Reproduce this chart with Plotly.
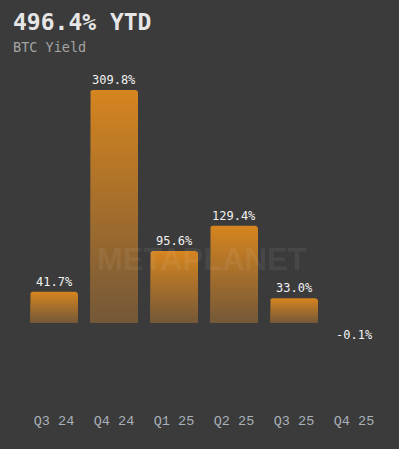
import numpy as np
import plotly.graph_objects as go

categories = ["Q3 24", "Q4 24", "Q1 25", "Q2 25", "Q3 25", "Q4 25"]
yields = [41.7, 309.8, 95.6, 129.4, 33.0, -0.1]
labels = ["41.7%", "309.8%", "95.6%", "129.4%", "33.0%", "-0.1%"]
title_text = "496.4% YTD"
subtitle_text = "BTC Yield"
watermark = "METAPLANET"

BG = "#3b3b3b"
TOP = "#d6851f"
BOTTOM = "#745838"

W, H = 399, 449
ML, MR, MT, MB = 24, 15, 80, 41
pw = W - ML - MR
ph = H - MT - MB
xr = [-0.5, len(categories) - 0.5]
yr = [-113.0, 323.1]
px_x = pw / (xr[1] - xr[0])
px_y = ph / (yr[1] - yr[0])

bar_w = 0.8
rad_px = 3.0

fig = go.Figure()

def bar_shape(i, v):
    x0, x1 = i - bar_w / 2, i + bar_w / 2
    if abs(v) * px_y < 2 * rad_px:
        return [x0, x0, x1, x1, x0], [0, v, v, 0, 0]
    rx = rad_px / px_x
    ry = rad_px / px_y * np.sign(v)
    xs, ys = [x0], [0]
    for a in np.linspace(np.pi, np.pi / 2, 6):
        xs.append(x0 + rx + rx * np.cos(a))
        ys.append(v - ry + ry * np.sin(a))
    for a in np.linspace(np.pi / 2, 0, 6):
        xs.append(x1 - rx + rx * np.cos(a))
        ys.append(v - ry + ry * np.sin(a))
    xs += [x1, x0]
    ys += [0, 0]
    return xs, ys

for i, v in enumerate(yields):
    xs, ys = bar_shape(i, v)
    fig.add_trace(go.Scatter(
        x=xs, y=ys, mode="lines", fill="toself",
        line=dict(width=0, color="rgba(0,0,0,0)"),
        fillgradient=dict(type="vertical",
                          colorscale=[[0, BOTTOM], [1, TOP]]),
        hoverinfo="skip", showlegend=False,
    ))

annotations = [
    dict(text=watermark, xref="paper", yref="paper",
         x=(202 - ML) / pw, y=(MT + ph - 259) / ph,
         xanchor="center", yanchor="middle", showarrow=False,
         font=dict(family="Liberation Sans", size=31, color="rgba(255,255,255,0.07)",
                   weight="bold")),
]
for i, (v, lab) in enumerate(zip(yields, labels)):
    annotations.append(dict(
        text=lab, x=i, y=max(v, 0), xref="x", yref="y",
        xanchor="center", yanchor="bottom" if v >= 0 else "top",
        yshift=1 if v >= 0 else -3, showarrow=False,
        font=dict(family="DejaVu Sans Mono", size=12, color="#f2f2f2"),
    ))
annotations += [
    dict(text="<b>" + title_text + "</b>", xref="paper", yref="paper",
         x=(11 - ML) / pw, y=(MT + ph - 22) / ph,
         xanchor="left", yanchor="middle", showarrow=False,
         font=dict(family="DejaVu Sans Mono", size=23, color="#e6e6e6")),
    dict(text=subtitle_text, xref="paper", yref="paper",
         x=(11 - ML) / pw, y=(MT + ph - 47) / ph,
         xanchor="left", yanchor="middle", showarrow=False,
         font=dict(family="DejaVu Sans Mono", size=13.5, color="#a4a4a4")),
]

fig.update_layout(
    width=W, height=H,
    margin=dict(l=ML, r=MR, t=MT, b=MB),
    paper_bgcolor=BG, plot_bgcolor=BG,
    showlegend=False,
    xaxis=dict(range=xr, tickmode="array",
               tickvals=list(range(len(categories))),
               ticktext=categories, showgrid=False, zeroline=False,
               showline=False, ticks="", fixedrange=True,
               ticklabelstandoff=2,
               tickfont=dict(family="Liberation Mono", size=13.5, color="#a9b1b9")),
    yaxis=dict(range=yr, showgrid=False, zeroline=False, showline=False,
               showticklabels=False, ticks="", fixedrange=True),
    annotations=annotations,
)

fig.write_html(
    "out.html",
    config={"displayModeBar": False},
    post_script="document.body.style.margin='0';document.body.style.background='" + BG + "';",
)
